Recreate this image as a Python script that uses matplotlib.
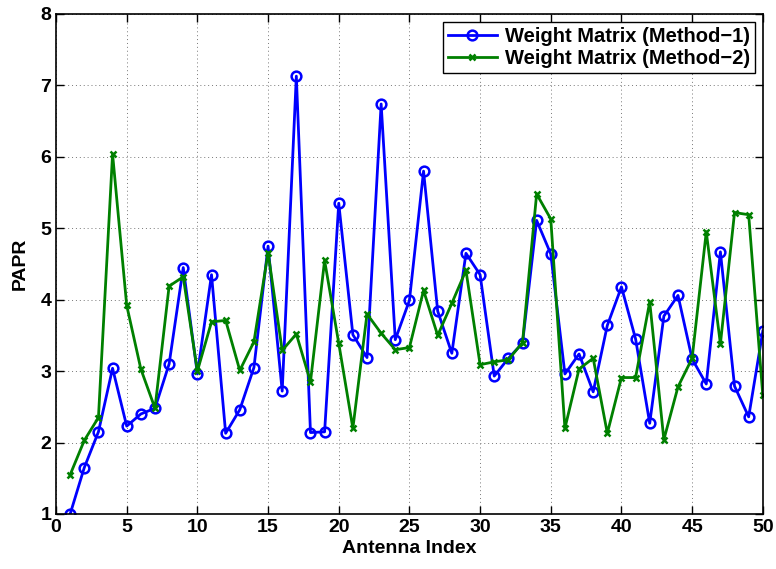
import numpy as np
import matplotlib
matplotlib.use('Agg')
import matplotlib.pyplot as plt

plt.rcParams['font.family'] = ['Liberation Sans', 'DejaVu Sans']
plt.rcParams['font.weight'] = 'bold'

# Antenna index and PAPR values
antenna = np.arange(1, 51)
papr_m1 = [1.00, 1.65, 2.15, 3.04, 2.23, 2.40, 2.48, 3.10, 4.45, 2.96,
           4.35, 2.13, 2.46, 3.05, 4.75, 2.72, 7.13, 2.14, 2.15, 5.35,
           3.51, 3.19, 6.74, 3.44, 3.99, 5.80, 3.84, 3.25, 4.65, 4.35,
           2.93, 3.18, 3.39, 5.11, 4.64, 2.96, 3.24, 2.71, 3.64, 4.18,
           3.45, 2.27, 3.77, 4.06, 3.17, 2.82, 4.67, 2.79, 2.36, 3.56]
papr_m2 = [1.55, 2.03, 2.35, 6.04, 3.92, 3.03, 2.48, 4.19, 4.32, 3.00,
           3.69, 3.71, 3.01, 3.41, 4.66, 3.29, 3.52, 2.85, 4.55, 3.39,
           2.20, 3.80, 3.53, 3.30, 3.33, 4.13, 3.50, 3.95, 4.41, 3.09,
           3.13, 3.16, 3.40, 5.48, 5.13, 2.20, 3.03, 3.18, 2.13, 2.91,
           2.91, 3.97, 2.04, 2.78, 3.18, 4.95, 3.38, 5.22, 5.19, 2.66]

fig = plt.figure(figsize=(7.76, 5.69), dpi=100)
ax = fig.add_axes([0.0722, 0.0967, 0.9108, 0.8787])

ax.plot(antenna, papr_m1, '-o', color='#0000ff', linewidth=2,
        markersize=7, markerfacecolor='none', markeredgewidth=1.8,
        label='Weight Matrix (Method\u22121)')
ax.plot(antenna, papr_m2, '-x', color='#008000', linewidth=2,
        markersize=5, markeredgewidth=1.8,
        label='Weight Matrix (Method\u22122)')

ax.set_xlim(0, 50)
ax.set_ylim(1, 8)
ax.set_xticks(np.arange(0, 51, 5))
ax.set_yticks(np.arange(1, 9, 1))
ax.tick_params(direction='in', length=6, labelsize=14, top=True, right=True,
               width=1)
ax.grid(True, linestyle=(0, (1, 3)), color='#777777', linewidth=0.7)
for s in ax.spines.values():
    s.set_linewidth(1.2)

ax.set_xlabel('Antenna Index', fontsize=14, fontweight='bold', labelpad=3)
ax.set_ylabel('PAPR', fontsize=14, fontweight='bold', labelpad=8)

leg = ax.legend(loc='upper right', fontsize=14.5, fancybox=False,
                edgecolor='black', framealpha=1, borderaxespad=0.4,
                handlelength=2.4, borderpad=0.25, labelspacing=0.15,
                handletextpad=0.4)
leg.get_frame().set_linewidth(1)

fig.savefig('out.png', dpi=100)
